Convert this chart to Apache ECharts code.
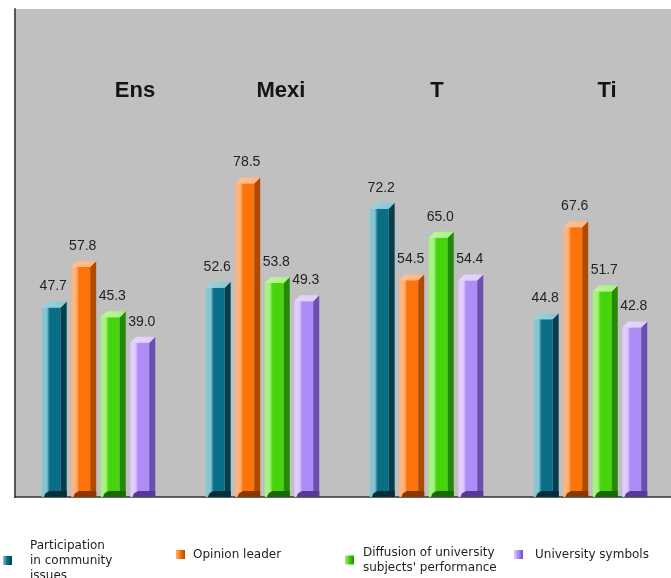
<!DOCTYPE html>
<html>
<head>
<meta charset="utf-8">
<script src="https://cdn.jsdelivr.net/npm/echarts@6/dist/echarts.min.js"></script>
<style>
  html, body { margin: 0; padding: 0; background: #ffffff; }
  #chart { width: 671px; height: 578px; }
</style>
</head>
<body>
<div id="chart"></div>
<script>
// Categories (cities) and the four indicators, one array per series
const categories = ['Ens', 'Mexi', 'T', 'Ti'];
const seriesNames = [
  'Participation in community issues',
  'Opinion leader',
  "Diffusion of university subjects' performance",
  'University symbols'
];
const legendLines = [
  'Participation\nin community\nissues',
  'Opinion leader',
  "Diffusion of university\nsubjects' performance",
  'University symbols'
];
const participation = [47.7, 52.6, 72.2, 44.8];
const opinionLeader = [57.8, 78.5, 54.5, 67.6];
const diffusion     = [45.3, 53.8, 65.0, 51.7];
const symbols       = [39.0, 49.3, 54.4, 42.8];
const seriesValues = [participation, opinionLeader, diffusion, symbols];

// Shading for the prism-style bars: lit left side, face, shaded side, cap, foot
const palette = [
  { light: '#86c6d2', main: '#0a6f86', dark: '#033f4f', cap: '#9dd3dd', foot: '#022f3b' },
  { light: '#ffb47e', main: '#fb7309', dark: '#b04a00', cap: '#ffc292', foot: '#8a3800' },
  { light: '#a8f280', main: '#46d40c', dark: '#238a06', cap: '#bcf89a', foot: '#1a6a04' },
  { light: '#e2ccff', main: '#ad8ef9', dark: '#6d4fb4', cap: '#e6d6ff', foot: '#553a96' }
];

// Horizontal offsets of the city headings from their band centres
const titleShift = [38, 20, 12, 18];

function faceGradient(c) {
  return new echarts.graphic.LinearGradient(0, 0, 1, 0, [
    { offset: 0, color: c.light },
    { offset: 0.26, color: c.light },
    { offset: 0.42, color: c.main },
    { offset: 1, color: c.main }
  ]);
}

function barRenderer(si) {
  return function (params, api) {
    const cat = api.value(0);
    const val = api.value(1);
    const topPt = api.coord([cat, val]);
    const basePt = api.coord([cat, 0]);
    const band = api.size([1, 0])[0];
    const w = band * 0.152;
    const step = band * 0.18;
    const cx = topPt[0] + (si - 1.5) * step + 1.5;
    const x0 = cx - w / 2;
    const x1 = cx + w / 2;
    const d = 6;
    const yTop = topPt[1] - d / 2;
    const yb = basePt[1];
    const c = palette[si];
    return {
      type: 'group',
      children: [
        {
          type: 'rect',
          shape: { x: x0, y: yTop + d, width: w - d, height: yb - (yTop + d) },
          style: { fill: faceGradient(c) }
        },
        {
          type: 'polygon',
          shape: { points: [[x1 - d, yTop + d], [x1, yTop], [x1, yb], [x1 - d, yb]] },
          style: { fill: c.dark }
        },
        {
          type: 'polygon',
          shape: { points: [[x0, yTop + d], [x0 + d, yTop], [x1, yTop], [x1 - d, yTop + d]] },
          style: {
            fill: new echarts.graphic.LinearGradient(0, 0, 1, 0, [
              { offset: 0, color: c.cap },
              { offset: 1, color: c.light }
            ])
          }
        },
        {
          type: 'polygon',
          shape: { points: [[x0 + 2, yb], [x0 + 4, yb - 4], [x0 + 8, yb - 6], [x1, yb - 6], [x1, yb]] },
          style: { fill: c.foot }
        },
        {
          type: 'text',
          style: {
            x: cx - 1,
            y: yTop - 15,
            text: val.toFixed(1),
            fill: '#222222',
            font: '14px "Liberation Sans", Arial, sans-serif',
            align: 'center',
            verticalAlign: 'middle'
          }
        }
      ]
    };
  };
}

function titleRenderer(params, api) {
  const cat = api.value(0);
  const pt = api.coord([cat, 0]);
  return {
    type: 'text',
    style: {
      x: pt[0] + titleShift[cat],
      y: params.coordSys.y + 82,
      text: categories[cat],
      fill: '#141414',
      font: 'bold 22px "Liberation Sans", Arial, sans-serif',
      align: 'center',
      verticalAlign: 'middle'
    }
  };
}

const barSeries = seriesNames.map((name, si) => ({
  name: name,
  type: 'custom',
  renderItem: barRenderer(si),
  itemStyle: { color: palette[si].main },
  encode: { x: 0, y: 1 },
  data: seriesValues[si].map((v, i) => [i, v]),
  z: 3
}));

const titleSeries = {
  type: 'custom',
  name: 'titles',
  renderItem: titleRenderer,
  encode: { x: 0 },
  data: categories.map((c, i) => [i]),
  silent: true,
  z: 2
};

const legendPos = [
  { left: 3, top: 538, pad: 13 },
  { left: 176, top: 547, pad: 3 },
  { left: 345, top: 545, pad: 4 },
  { left: 514, top: 547, pad: 7 }
];

const legends = seriesNames.map((name, si) => ({
  data: [{
    name: name,
    itemStyle: {
      color: new echarts.graphic.LinearGradient(0, 0, 1, 0, [
        { offset: 0, color: palette[si].light },
        { offset: 0.45, color: palette[si].main },
        { offset: 1, color: palette[si].dark }
      ])
    }
  }],
  left: legendPos[si].left,
  top: legendPos[si].top,
  padding: 0,
  icon: 'rect',
  itemWidth: 9,
  itemHeight: 9,
  selectedMode: false,
  formatter: () => legendLines[si],
  textStyle: {
    fontFamily: '"DejaVu Sans", Verdana, sans-serif',
    fontSize: 12,
    lineHeight: 15,
    color: '#1e1e1e',
    padding: [0, 0, 0, legendPos[si].pad]
  }
}));

const chart = echarts.init(document.getElementById('chart'), null, { renderer: 'canvas' });
chart.setOption({
  animation: false,
  backgroundColor: '#ffffff',
  grid: {
    left: 15,
    right: -6,
    top: 9,
    bottom: 81,
    show: true,
    backgroundColor: '#c0c0c0',
    borderWidth: 0
  },
  xAxis: {
    type: 'category',
    data: categories,
    axisLabel: { show: false },
    axisTick: { show: false },
    axisLine: { lineStyle: { color: '#333333', width: 1.5 } },
    splitLine: { show: false }
  },
  yAxis: {
    type: 'value',
    min: 0,
    max: 121,
    axisLabel: { show: false },
    axisTick: { show: false },
    splitLine: { show: false },
    axisLine: { show: true, lineStyle: { color: '#555555', width: 2 } }
  },
  legend: legends,
  series: [titleSeries].concat(barSeries)
});
</script>
</body>
</html>
